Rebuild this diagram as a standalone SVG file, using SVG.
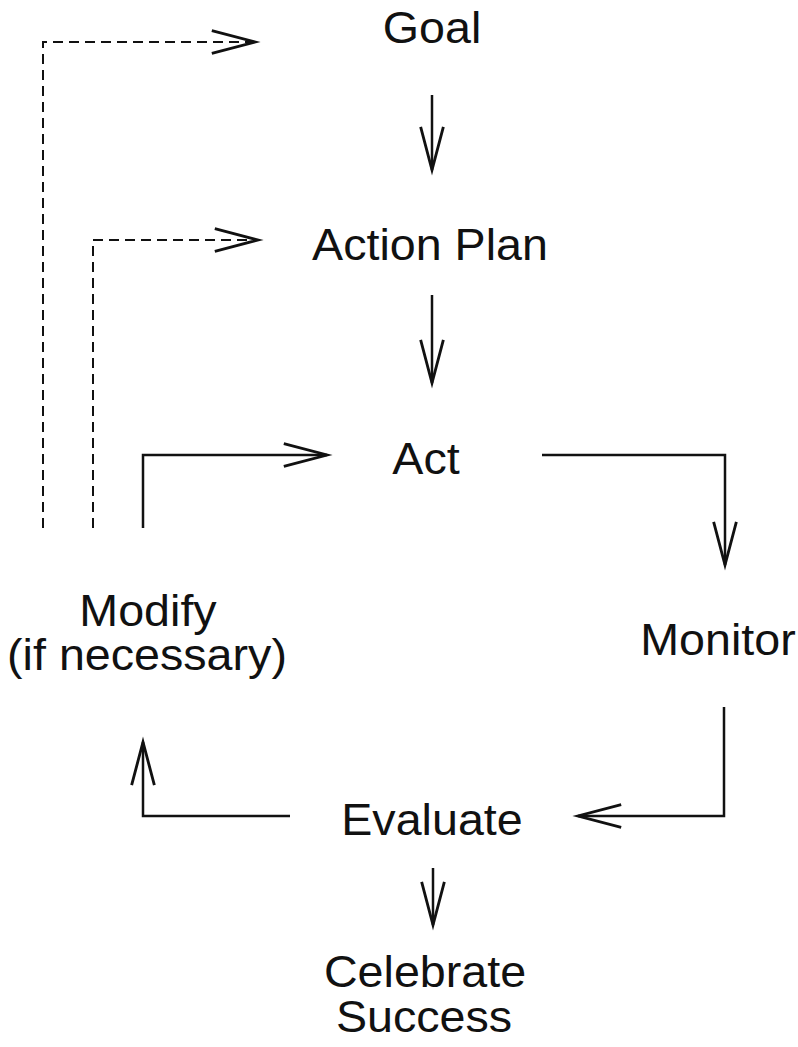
<svg xmlns="http://www.w3.org/2000/svg" width="798" height="1047" viewBox="0 0 798 1047">
<defs>
<marker id="ah" markerUnits="userSpaceOnUse" markerWidth="50" markerHeight="30" viewBox="-40 -12 44 24" refX="0" refY="0" orient="auto" overflow="visible">
<path d="M-38,-10 L0,0 L-38,10" fill="none" stroke="#111111" stroke-width="2.5" stroke-linejoin="miter"/>
</marker>
</defs>
<style>
.lbl{font-family:"Liberation Sans",Arial,sans-serif;font-size:44px;fill:#111111;text-anchor:middle}
.c{fill:none;stroke:#111111;stroke-width:2.5;marker-end:url(#ah)}
.d{stroke-width:2;stroke-dasharray:10 6}
</style>
<rect width="798" height="1047" fill="#ffffff"/>
<g id="connectors">
<path class="c d" d="M43,528 V42 H255"/>
<path class="c d" d="M93,528 V240 H258"/>
<path class="c" d="M432,95 V170"/>
<path class="c" d="M432,295 V383"/>
<path class="c" d="M143,528 V455 H327"/>
<path class="c" d="M542,455 H725 V565"/>
<path class="c" d="M724,707 V816 H578"/>
<path class="c" d="M290,816 H143 V742"/>
<path class="c" d="M433,868 V925"/>
</g>
<g id="goal"><text class="lbl" transform="translate(432,43) scale(1.06,1)">Goal</text></g>
<g id="action-plan"><text class="lbl" transform="translate(430,260) scale(1.06,1)">Action Plan</text></g>
<g id="act"><text class="lbl" transform="translate(426,474) scale(1.06,1)">Act</text></g>
<g id="modify"><text class="lbl" transform="translate(148,626) scale(1.06,1)">Modify</text><text class="lbl" transform="translate(147,670) scale(1.06,1)">(if necessary)</text></g>
<g id="monitor"><text class="lbl" transform="translate(718,655) scale(1.06,1)">Monitor</text></g>
<g id="evaluate"><text class="lbl" transform="translate(432,835) scale(1.06,1)">Evaluate</text></g>
<g id="celebrate"><text class="lbl" transform="translate(425,987) scale(1.06,1)">Celebrate</text><text class="lbl" transform="translate(424,1032) scale(1.06,1)">Success</text></g>
</svg>
